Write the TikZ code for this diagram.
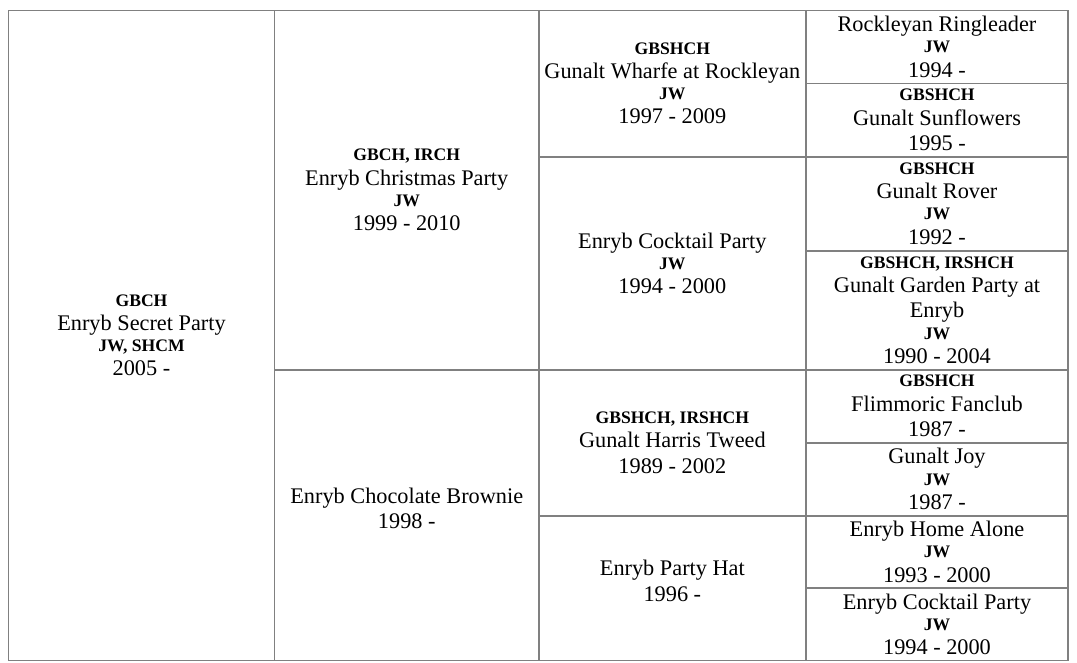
\documentclass[tikz,border=0pt]{standalone}
\usepackage{fontspec}
\setmainfont{Liberation Serif}
\newcommand\ttlx[1]{{\fontsize{17.6pt}{0pt}\selectfont\bfseries\rule[-4.2pt]{0pt}{20.25pt}#1}}
\newcommand\nmx[1]{{\rule[-5.2pt]{0pt}{25.3pt}#1}}
\newcommand\nmxd[1]{{\rule[-19.2pt]{0pt}{39.3pt}#1}}
\newcommand\pcell[6]{\node[cell, minimum width={(#4-#2)*1pt}, minimum height={(#5-#3)*1pt}] (#1) at ({(#2+#4)/2},{(#3+#5)/2}) {#6};}
\tikzset{
  cell/.style={draw=gray, line width=1.7pt, inner sep=0pt, outer sep=0pt, align=center,
    font=\fontsize{22.3pt}{0pt}\selectfont, text=black}
}
\lineskip=0pt
\lineskiplimit=0pt
\begin{document}
\begin{tikzpicture}[x=1pt,y=-1pt]
\useasboundingbox (0,0) rectangle (1077,662);
% column 1
\pcell{c1}{8.5}{10.5}{274.5}{660.5}{\ttlx{GBCH}\\\nmx{Enryb Secret Party}\\\ttlx{JW, SHCM}\\\nmx{2005 -}}
% column 2
\pcell{c2a}{274.5}{10.5}{539}{370}{\ttlx{GBCH, IRCH}\\\nmx{Enryb Christmas Party}\\\ttlx{JW}\\\nmx{1999 - 2010}}
\pcell{c2b}{274.5}{370}{539}{660.5}{\nmx{Enryb Chocolate Brownie}\\\nmxd{1998 -}}
% column 3
\pcell{c3a}{539}{10.5}{805.7}{156.7}{\ttlx{GBSHCH}\\\nmx{Gunalt Wharfe at Rockleyan}\\\ttlx{JW}\\\nmx{1997 - 2009}}
\pcell{c3b}{539}{156.7}{805.7}{370}{\nmx{Enryb Cocktail Party}\\\ttlx{JW}\\\nmx{1994 - 2000}}
\pcell{c3c}{539}{370}{805.7}{515.7}{\ttlx{GBSHCH, IRSHCH}\\\nmx{Gunalt Harris Tweed}\\\nmx{1989 - 2002}}
\pcell{c3d}{539}{515.7}{805.7}{660.5}{\nmx{Enryb Party Hat}\\\nmxd{1996 -}}
% column 4
\pcell{c4a}{805.7}{10.5}{1068.3}{83.5}{\nmx{Rockleyan Ringleader}\\\ttlx{JW}\\\nmx{1994 -}}
\pcell{c4b}{805.7}{83.5}{1068.3}{156.7}{\ttlx{GBSHCH}\\\nmx{Gunalt Sunflowers}\\\nmx{1995 -}}
\pcell{c4c}{805.7}{156.7}{1068.3}{250.7}{\ttlx{GBSHCH}\\\nmx{Gunalt Rover}\\\ttlx{JW}\\\nmx{1992 -}}
\pcell{c4d}{805.7}{250.7}{1068.3}{370}{\ttlx{GBSHCH, IRSHCH}\\\nmx{Gunalt Garden Party at}\\\nmx{Enryb}\\\ttlx{JW}\\\nmx{1990 - 2004}}
\pcell{c4e}{805.7}{370}{1068.3}{442.7}{\ttlx{GBSHCH}\\\nmx{Flimmoric Fanclub}\\\nmx{1987 -}}
\pcell{c4f}{805.7}{442.7}{1068.3}{515.7}{\nmx{Gunalt Joy}\\\ttlx{JW}\\\nmx{1987 -}}
\pcell{c4g}{805.7}{515.7}{1068.3}{588.3}{\nmx{Enryb Home Alone}\\\ttlx{JW}\\\nmx{1993 - 2000}}
\pcell{c4h}{805.7}{588.3}{1068.3}{660.5}{\nmx{Enryb Cocktail Party}\\\ttlx{JW}\\\nmx{1994 - 2000}}
\end{tikzpicture}
\end{document}
